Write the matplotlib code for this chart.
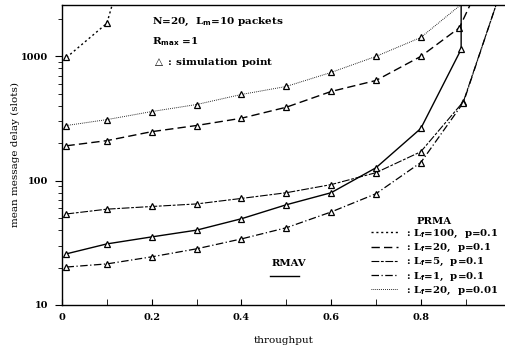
import matplotlib
matplotlib.use('Agg')
import matplotlib.pyplot as plt
from matplotlib.lines import Line2D

plt.rcParams['font.family'] = 'DejaVu Serif'
plt.rcParams['font.weight'] = 'bold'

# simulation points (throughput, delay); last entry of each = where the curve leaves the top
x_lf100 = [0.01, 0.1, 0.112]
y_lf100 = [980, 1845, 2600]

x_lf20 = [0.01, 0.1, 0.2, 0.3, 0.4, 0.5, 0.6, 0.7, 0.8, 0.886, 0.91]
y_lf20 = [191, 210, 248, 278, 318, 390, 522, 640, 1000, 1700, 2600]

x_lf5 = [0.01, 0.1, 0.2, 0.3, 0.4, 0.5, 0.6, 0.7, 0.8, 0.895, 0.968]
y_lf5 = [54, 59, 62, 65, 72, 80, 93, 116, 171, 433, 2600]

x_lf1 = [0.01, 0.1, 0.2, 0.3, 0.4, 0.5, 0.6, 0.7, 0.8, 0.895, 0.968]
y_lf1 = [20.2, 21.4, 24.4, 28.3, 34, 41.8, 56, 78.5, 140, 425, 2600]

x_lf20_p01 = [0.01, 0.1, 0.2, 0.3, 0.4, 0.5, 0.6, 0.7, 0.8, 0.889]
y_lf20_p01 = [278, 310, 360, 410, 494, 573, 743, 1000, 1420, 2600]

x_rmav = [0.01, 0.1, 0.2, 0.3, 0.4, 0.5, 0.6, 0.7, 0.8, 0.89, 0.89]
y_rmav = [25.8, 31, 35.3, 40, 49.4, 64, 80, 127, 263, 1140, 2600]

prma_labels = [r': L$_\mathbf{f}$=100,  p=0.1', r': L$_\mathbf{f}$=20,  p=0.1',
               r': L$_\mathbf{f}$=5,  p=0.1', r': L$_\mathbf{f}$=1,  p=0.1',
               r': L$_\mathbf{f}$=20,  p=0.01']

styles = [((0, (1.5, 2)), 1.0), ((0, (6, 3)), 1.0), ((0, (7, 1.5, 2.5, 1.5)), 0.8),
          ((0, (6, 2, 1, 2)), 0.9), ((0, (0.8, 1.2)), 0.7)]

fig = plt.figure(figsize=(5.06, 3.45), dpi=100)
ax = fig.add_axes([0.1225, 0.116, 0.8775, 0.87])

mk = dict(marker='^', mfc='white', mec='black', ms=4, mew=0.9, color='black')

def curve(x, y, ls, lw):
    return ax.plot(x, y, ls=ls, lw=lw, markevery=list(range(len(x) - 1)), **mk)[0]

for (x, y), (ls, lw) in zip([(x_lf100, y_lf100), (x_lf20, y_lf20), (x_lf5, y_lf5),
                             (x_lf1, y_lf1), (x_lf20_p01, y_lf20_p01)], styles):
    curve(x, y, ls, lw)
curve(x_rmav, y_rmav, '-', 1.0)

ax.set_yscale('log')
ax.set_ylim(10, 2600)
ax.set_xlim(0, 0.99)
ax.set_xticks([0, 0.2, 0.4, 0.6, 0.8])
ax.set_xticklabels(['0', '0.2', '0.4', '0.6', '0.8'])
ax.set_xticks([0.1, 0.3, 0.5, 0.7, 0.9], minor=True)
ax.set_yticks([10, 100, 1000])
ax.set_yticklabels(['10', '100', '1000'])
ax.tick_params(axis='x', which='both', direction='in', length=4, labelsize=7, pad=6)
ax.tick_params(axis='y', which='major', direction='out', length=5, labelsize=7, pad=5)
ax.tick_params(axis='y', which='minor', direction='out', length=3)
ax.spines['right'].set_visible(False)
for s in ['left', 'bottom', 'top']:
    ax.spines[s].set_linewidth(1.0)

ax.set_xlabel('throughput', fontsize=7.5, labelpad=10)
ax.set_ylabel('mean message delay (slots)', fontsize=7.5, labelpad=11)
ax.yaxis.set_label_coords(-0.095, 0.5)

ax.text(0.2, 1900, r'N=20,  L$_\mathbf{m}$=10 packets', fontsize=7.5, va='center')
ax.text(0.2, 1310, r'R$_\mathbf{max}$ =1', fontsize=7.5, va='center')
ax.text(0.2, 900, r'$\triangle$ : simulation point', fontsize=7.5, va='center')

leg = ax.legend([Line2D([], [], color='black', ls=ls, lw=lw) for ls, lw in styles],
                prma_labels, title='PRMA', loc='lower right', bbox_to_anchor=(1.0, 0.0),
                frameon=False, fontsize=7.3, title_fontsize=7.3, handlelength=2.6,
                handletextpad=0.8, labelspacing=0.22, borderpad=0.3)
leg.get_title().set_fontweight('bold')
ax.add_artist(leg)

leg2 = ax.legend([Line2D([], [], color='black', lw=1.0)], [''], title='RMAV',
                 loc='lower left', bbox_to_anchor=(0.45, 0.05), frameon=False,
                 fontsize=7.3, title_fontsize=7.3, handlelength=2.9, borderpad=0.3)
leg2.get_title().set_fontweight('bold')

fig.savefig('out.png', dpi=100)
